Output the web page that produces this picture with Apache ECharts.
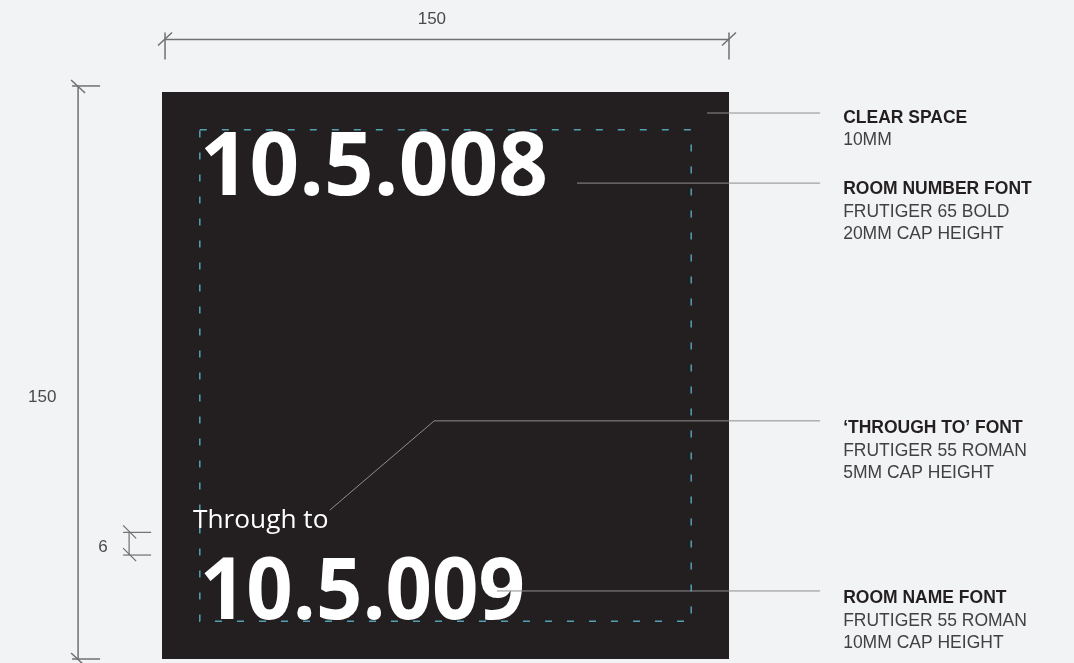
<!DOCTYPE html>
<html>
<head>
<meta charset="utf-8">
<script src="https://cdn.jsdelivr.net/npm/echarts@6/dist/echarts.min.js"></script>
<style>
html, body { margin: 0; background: #f2f3f5; }
#main { width: 1074px; height: 663px; }
</style>
</head>
<body>
<div id="main"></div>
<script>
// sign dimensions in mm
var signSize = [150, 150];
var clearSpace = 10;
var lineGap = 6;
var dimLabels = ['150', '150', '6'];
var signTexts = ['10.5.008', 'Through to', '10.5.009'];
var noteTitles = ['CLEAR SPACE', 'ROOM NUMBER FONT', '\u2018THROUGH TO\u2019 FONT', 'ROOM NAME FONT'];
var noteLines = [
    ['10MM'],
    ['FRUTIGER 65 BOLD', '20MM CAP HEIGHT'],
    ['FRUTIGER 55 ROMAN', '5MM CAP HEIGHT'],
    ['FRUTIGER 55 ROMAN', '10MM CAP HEIGHT']
];

var dimColor = '#707070';
var leaderColor = '#8e8e8e';

function renderSign(params, api) {
    var W = signSize[0], H = signSize[1], c = clearSpace;
    function P(x, y) { return api.coord([x, y]); }
    var kids = [];

    // sign plate
    var a = P(0, 0), b = P(W, H);
    kids.push({type: 'rect', shape: {x: a[0], y: a[1], width: b[0] - a[0], height: b[1] - a[1]},
        style: {fill: '#231f20'}});

    // clear space
    var ca = P(c, c), cb = P(W - c, H - c);
    kids.push({type: 'rect', shape: {x: ca[0], y: ca[1], width: cb[0] - ca[0], height: cb[1] - ca[1]},
        style: {fill: null, stroke: '#52a0b2', lineWidth: 1.5, lineDash: [7, 15]}});

    // sign texts
    var baseNext = H - c;                       // baseline of second number
    var capNext = baseNext - 17.5;               // cap top of second number
    var baseThrough = capNext - lineGap;
    var t1 = P(c, 20.6), t2 = P(c - 1.8, baseThrough - 3.0), t3 = P(c, 132.9);
    kids.push({type: 'text', x: t1[0], y: t1[1], scaleX: 1,
        style: {text: signTexts[0], fill: '#fff', font: 'bold 87px "Open Sans"', align: 'left', verticalAlign: 'middle'}});
    kids.push({type: 'text', x: t2[0], y: t2[1], scaleX: 1.05,
        style: {text: signTexts[1], fill: '#fff', font: '25px "Open Sans"', align: 'left', verticalAlign: 'middle'}});
    kids.push({type: 'text', x: t3[0], y: t3[1], scaleX: 0.945,
        style: {text: signTexts[2], fill: '#fff', font: 'bold 86px "Open Sans"', align: 'left', verticalAlign: 'middle'}});

    // leaders
    var endX = 174.1;
    var leaders = [
        [[144.2, 5.56], [endX, 5.56]],
        [[109.8, 24.1], [endX, 24.1]],
        [[44.4, 110.6], [72.0, 87.0], [endX, 87.0]],
        [[88.6, 132.0], [endX, 132.0]]
    ];
    leaders.forEach(function (pts) {
        kids.push({type: 'polyline', shape: {points: pts.map(function (p) { return P(p[0], p[1]); })},
            style: {fill: null, stroke: leaderColor, lineWidth: 1}});
    });

    // notes
    var noteY = [6.9, 25.8, 89.0, 134.0];
    noteTitles.forEach(function (t, i) {
        var p = P(180.2, noteY[i]);
        kids.push({type: 'text', x: p[0], y: p[1],
            style: {text: t, fill: '#231f20', font: 'bold 17.5px "Liberation Sans"', align: 'left', verticalAlign: 'middle'}});
        noteLines[i].forEach(function (s, j) {
            kids.push({type: 'text', x: p[0], y: p[1] + 22.5 * (j + 1),
                style: {text: s, fill: '#414141', font: '17.5px "Liberation Sans"', align: 'left', verticalAlign: 'middle'}});
        });
    });

    // dimension lines
    function line(p, q, w) {
        kids.push({type: 'line', shape: {x1: p[0], y1: p[1], x2: q[0], y2: q[1]},
            style: {stroke: dimColor, lineWidth: w || 1.5}});
    }
    // top: width
    var ty = -13.9;
    var l = P(0.8, ty), r = P(W, ty);
    line(l, r);
    [l, r].forEach(function (p) {
        line([p[0], p[1] - 7], [p[0], p[1] + 20]);
        line([p[0] - 7, p[1] + 6], [p[0] + 7, p[1] - 7]);
    });
    // left: height
    var lx = -22.2;
    var tp = P(lx, -1.6), bt = P(lx, H);
    line(tp, bt);
    [tp, bt].forEach(function (p) {
        line([p[0] - 6, p[1]], [p[0] + 22, p[1]]);
        line([p[0] - 7, p[1] - 6], [p[0] + 7, p[1] + 7]);
    });
    // gap between 'Through to' and number
    var gx = -8.7;
    var g1 = P(gx, baseThrough), g2 = P(gx, capNext);
    line(g1, g2, 1.2);
    [g1, g2].forEach(function (p) {
        line([p[0] - 6, p[1]], [p[0] + 22, p[1]], 1.2);
        line([p[0] - 6, p[1] - 7], [p[0] + 7, p[1] + 6], 1.2);
    });

    var dimFont = '17px "Liberation Sans"';
    var d1 = P(71.4, -19.3), d2 = P(-31.7, 80.9), d3 = P(-15.6, 120.4);
    [d1, d2, d3].forEach(function (p, i) {
        kids.push({type: 'text', x: p[0], y: p[1],
            style: {text: dimLabels[i], fill: '#4a4a4a', font: dimFont, align: 'center', verticalAlign: 'middle'}});
    });

    return {type: 'group', children: kids};
}

var option = {
    backgroundColor: '#f2f3f5',
    animation: false,
    grid: {left: 162, top: 92, width: 567, height: 567},
    xAxis: {type: 'value', min: 0, max: 150, show: false},
    yAxis: {type: 'value', min: 0, max: 150, inverse: true, show: false},
    series: [{
        type: 'custom',
        name: 'sign',
        clip: false,
        silent: true,
        data: [[0, 0]],
        renderItem: renderSign
    }]
};

var myChart = echarts.init(document.getElementById('main'));
myChart.setOption(option);
</script>
</body>
</html>
